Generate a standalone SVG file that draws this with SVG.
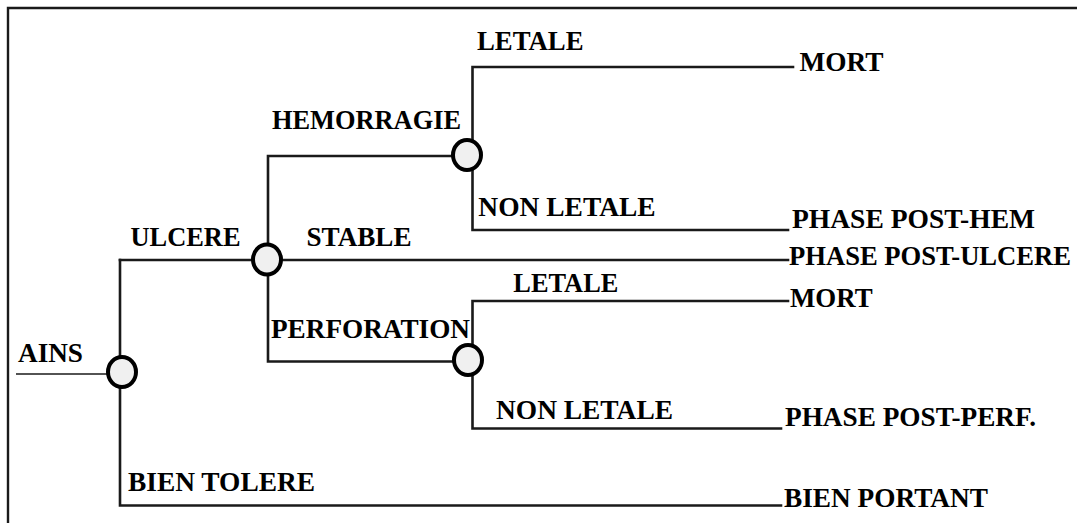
<svg xmlns="http://www.w3.org/2000/svg" width="1077" height="523" viewBox="0 0 1077 523">
  <style>
    .lbl { font-family: "Liberation Serif", "Times New Roman", serif; font-weight: bold; font-size: 27.5px; fill: #000; }
    .edge { fill: none; stroke: #1a1a1a; stroke-width: 2.6; stroke-linecap: square; }
    .thin { fill: none; stroke: #1a1a1a; stroke-width: 1.6; }
    .chance { fill: #f0f0f0; stroke: #000; stroke-width: 4; }
    .frame { fill: none; stroke: #1a1a1a; stroke-width: 2.4; }
  </style>
  <rect width="1077" height="523" fill="#fff"/>

  <!-- page frame (top and left edges) -->
  <path class="frame" d="M8,523 V8 H1077"/>

  <!-- connectors -->
  <g id="connectors">
    <line class="thin" x1="16" y1="374" x2="108" y2="374"/>
    <!-- AINS branches -->
    <path class="edge" d="M120,260 V505.5 H781"/>
    <path class="edge" d="M120,260 H788"/>
    <!-- ULCERE branches -->
    <path class="edge" d="M468,156 H268 V361.5 H468"/>
    <!-- HEMORRAGIE branches -->
    <path class="edge" d="M793,67 H472.5 V230 H788"/>
    <!-- PERFORATION branches -->
    <path class="edge" d="M788,301 H472.5 V428.5 H781"/>
  </g>

  <!-- decision nodes -->
  <g id="node-ains">
    <ellipse class="chance" cx="122" cy="372" rx="14" ry="15"/>
    <text class="lbl" x="18" y="362" textLength="65" lengthAdjust="spacingAndGlyphs">AINS</text>
  </g>
  <g id="node-ulcere">
    <ellipse class="chance" cx="267" cy="259.5" rx="14" ry="15"/>
    <text class="lbl" x="130.5" y="246" textLength="110" lengthAdjust="spacingAndGlyphs">ULCERE</text>
    <text class="lbl" x="306.5" y="246" textLength="105" lengthAdjust="spacingAndGlyphs">STABLE</text>
  </g>
  <g id="node-hemorragie">
    <ellipse class="chance" cx="467" cy="155" rx="14" ry="15"/>
    <text class="lbl" x="272" y="129" textLength="189" lengthAdjust="spacingAndGlyphs">HEMORRAGIE</text>
    <text class="lbl" x="477" y="50" textLength="106.5" lengthAdjust="spacingAndGlyphs">LETALE</text>
    <text class="lbl" x="478.3" y="216" textLength="177.4" lengthAdjust="spacingAndGlyphs">NON LETALE</text>
  </g>
  <g id="node-perforation">
    <ellipse class="chance" cx="468" cy="360" rx="14" ry="15"/>
    <text class="lbl" x="271" y="338" textLength="199" lengthAdjust="spacingAndGlyphs">PERFORATION</text>
    <text class="lbl" x="513.3" y="292" textLength="105" lengthAdjust="spacingAndGlyphs">LETALE</text>
    <text class="lbl" x="496" y="419" textLength="177" lengthAdjust="spacingAndGlyphs">NON LETALE</text>
  </g>
  <g id="node-bien-tolere">
    <text class="lbl" x="128" y="490.5" textLength="187" lengthAdjust="spacingAndGlyphs">BIEN TOLERE</text>
  </g>

  <!-- outcomes -->
  <g id="outcome-mort-1"><text class="lbl" x="799.4" y="71" textLength="84" lengthAdjust="spacingAndGlyphs">MORT</text></g>
  <g id="outcome-post-hem"><text class="lbl" x="792" y="227.5" textLength="243" lengthAdjust="spacingAndGlyphs">PHASE POST-HEM</text></g>
  <g id="outcome-post-ulcere"><text class="lbl" x="789" y="265" style="font-size:26.5px" textLength="282" lengthAdjust="spacingAndGlyphs">PHASE POST-ULCERE</text></g>
  <g id="outcome-mort-2"><text class="lbl" x="790" y="306.7" textLength="82.7" lengthAdjust="spacingAndGlyphs">MORT</text></g>
  <g id="outcome-post-perf"><text class="lbl" x="785" y="425.5" textLength="251" lengthAdjust="spacingAndGlyphs">PHASE POST-PERF.</text></g>
  <g id="outcome-bien-portant"><text class="lbl" x="784" y="506.5" textLength="204" lengthAdjust="spacingAndGlyphs">BIEN PORTANT</text></g>
</svg>
